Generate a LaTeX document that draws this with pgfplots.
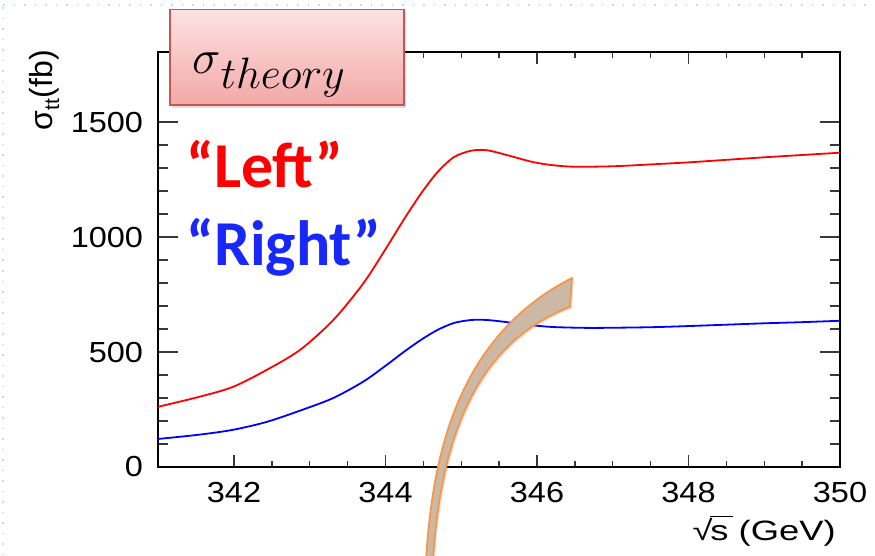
\RequirePackage{fix-cm}
\documentclass[border=0pt]{standalone}
\usepackage{pgfplots}
\pgfplotsset{compat=1.18}
\usepackage{fontspec}
\setmainfont{Liberation Sans}
\newfontfamily\calibri{Carlito}
\usetikzlibrary{shadows}

\definecolor{leftred}{RGB}{255,0,0}
\definecolor{rightblue}{RGB}{0,0,255}
\definecolor{labelblue}{RGB}{25,40,250}
\definecolor{boxtop}{RGB}{253,226,226}
\definecolor{boxbottom}{RGB}{243,168,168}
\definecolor{boxedge}{RGB}{196,86,84}
\definecolor{arrowfill}{RGB}{205,184,166}
\definecolor{arroworange}{RGB}{247,150,70}
\definecolor{framedot}{RGB}{196,218,228}

% sigma(tt) vs sqrt(s) for the two beam polarisations
\pgfplotstableread{
x      y
341.0  262
341.55 306
341.99 349
342.43 422
342.87 509
343.31 639
343.71 800
344.02 958
344.24 1075
344.46 1185
344.68 1280
344.90 1347
345.12 1375
345.3  1379
345.45 1370
345.7  1348
345.95 1326
346.2  1313
346.5  1306
347.0  1308
347.5  1316
348.0  1325
348.5  1336
349.0  1347
349.5  1357
350.0  1367
}\lefttable

\pgfplotstableread{
x      y
341.0  122
341.55 141
341.99 162
342.43 196
342.87 245
343.31 300
343.71 372
344.02 445
344.24 500
344.46 551
344.68 595
344.90 626
345.12 639
345.3  640
345.45 636
345.7  626
345.95 616
346.2  609
346.5  606
346.8  605
347.5  608
348.0  613
348.5  619
349.0  625
349.5  630
350.0  636
}\righttable

% thin ROOT-style square root: radical glyph plus an overline
\newcommand{\thinsqrt}[1]{%
  √\kern-0.06em\rlap{\raisebox{0.86em}{\rule{0.62em}{0.035em}}}#1}

\begin{document}
\begin{tikzpicture}[x=1pt,y=1pt]
\useasboundingbox (0,0) rectangle (875,555);

% dotted slide frame
\draw[framedot, line width=1.2pt, dash pattern=on 1.5pt off 9pt] (3,550) -- (875,550);
\draw[framedot, line width=1.2pt, dash pattern=on 1.5pt off 9pt] (3,0) -- (3,550);

\begin{axis}[
  at={(158.25pt,88pt)}, anchor=south west,
  scale only axis, width=681.75pt, height=415pt,
  xmin=341, xmax=350, ymin=0, ymax=1805,
  xtick={342,344,346,348,350},
  ytick={0,500,1000,1500},
  minor x tick num=3, minor y tick num=4,
  tick align=inside,
  major tick length=20pt, minor tick length=10pt,
  xtick style={/pgfplots/major tick length=11.7pt, /pgfplots/minor tick length=6pt},
  tick style={line width=1.3pt, black!78},
  axis line style={line width=1.8pt, black},
  ticklabel style={font=\fontsize{29}{32}\selectfont, inner sep=0pt},
  xticklabel={\scalebox{1.12}[1]{\pgfmathprintnumber{\tick}}},
  yticklabel={\scalebox{1.12}[1]{\pgfmathprintnumber{\tick}}},
  /pgf/number format/assume math mode=true,
  /pgf/number format/1000 sep={},
  yticklabel style={xshift=-15pt},
  xticklabel style={yshift=-15pt},
  clip=false,
]
\addplot[leftred, line width=1.8pt, smooth, no markers] table[x=x,y=y]{\lefttable};
\addplot[rightblue, line width=1.8pt, smooth, no markers] table[x=x,y=y]{\righttable};
\end{axis}

% axis titles
\node[anchor=base east, inner sep=0pt, font=\fontsize{28}{30}\selectfont] at (836,14.3)
  {\scalebox{1.3}[1]{\thinsqrt{s} (GeV)}};
\node[rotate=90, anchor=base east, inner sep=0pt, font=\fontsize{32}{35}\selectfont] at (52,505)
  {σ\raisebox{-7pt}{\fontsize{21}{23}\selectfont t\kern0.5pt t}(fb)};

% polarisation labels
\node[anchor=base west, inner sep=0pt, text=leftred, font=\calibri\bfseries\fontsize{64}{70}\selectfont] at (186,367) {“Left”};
\node[anchor=base west, inner sep=0pt, text=labelblue, font=\calibri\bfseries\fontsize{64}{70}\selectfont] at (186,290) {“Right”};

% title box
\path[draw=boxedge, line width=1.5pt, top color=boxtop, bottom color=boxbottom,
      drop shadow={opacity=0.25, shadow xshift=2pt, shadow yshift=-3pt}]
  (170,450) rectangle (404,545.5);
\node[anchor=base west, inner sep=0pt] at (192,481.7)
  {\fontsize{48}{52}\selectfont$\sigma$\raisebox{-15pt}{\fontsize{44}{48}\selectfont$theory$}};

% curved pointer
\begin{scope}[yshift=555pt, yscale=-1]
\path[fill=arrowfill, draw=arroworange, line width=1.8pt, line join=round,
      drop shadow={opacity=0.2, shadow xshift=2pt, shadow yshift=-2pt}]
  (426,560) .. controls (432,470) and (450,340) .. (572,278)
  -- (570,307)
  .. controls (470,345) and (440,450) .. (433,560) -- cycle;
\end{scope}
\end{tikzpicture}
\end{document}
